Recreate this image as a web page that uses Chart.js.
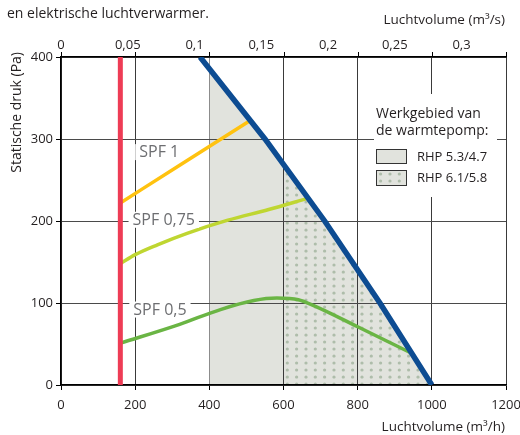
<!DOCTYPE html>
<html><head><meta charset="utf-8">
<script src="https://cdn.jsdelivr.net/npm/chart.js@4.4.1/dist/chart.umd.min.js"></script>
<style>html,body{margin:0;padding:0;background:#fff}#wrap{width:520px;height:435px;position:relative}</style>
</head><body><div id="wrap"><canvas id="c" width="520" height="435"></canvas></div>
<script>
// ---- data (airflow in m3/h, static pressure in Pa) ----
const xTickValues = [0, 200, 400, 600, 800, 1000, 1200];
const yTickValues = [0, 100, 200, 300, 400];
const topTickLabelsM3s = ['0', '0,05', '0,1', '0,15', '0,2', '0,25', '0,3'];

const minFlowX = [160, 160];
const minFlowY = [0, 400];

const maxCurveX = [375, 550, 711, 860, 1000];
const maxCurveY = [400, 300, 200, 100, 0];

const rhp53X = [400, 550, 711, 860, 1000];
const rhp53Y = [386, 300, 200, 100, 0];

const rhp61X = [600, 711, 860, 1000];
const rhp61Y = [268, 200, 100, 0];

const spf1X = [160, 320, 505];
const spf1Y = [222, 268, 321];

const spf075X = [160, 200, 260, 340, 450, 560, 660];
const spf075Y = [148, 159, 171, 185, 201, 214, 227];

const spf05X = [160, 320, 430, 520, 582, 640, 680, 800, 940];
const spf05Y = [51, 74, 92, 103, 106, 104, 97, 71, 40];

const spfNames = ['SPF 1', 'SPF 0,75', 'SPF 0,5'];
const legendNames = ['RHP 5.3/4.7', 'RHP 6.1/5.8'];

// ---- rendering ----
const FONT = '"Open Sans", "Noto Sans", sans-serif';
const TXT = '#231f20';
const pts = (xs, ys) => xs.map((x, i) => ({x, y: ys[i]}));

const cv = document.getElementById('c');
const ctx0 = cv.getContext('2d');
function makeDots() {
  const c = document.createElement('canvas');
  c.width = 28; c.height = 21;
  const g = c.getContext('2d');
  g.fillStyle = '#e1e3dd'; g.fillRect(0, 0, 28, 21);
  g.fillStyle = '#aebdaa';
  for (const xs of [7.3, 16.6, 26]) for (const ys of [6, 13, 20])
    for (const dx of [-28, 0, 28]) for (const dy of [-21, 0, 21]) {
      g.beginPath(); g.arc(xs + dx, ys + dy, 1.6, 0, Math.PI * 2); g.fill();
    }
  return ctx0.createPattern(c, 'repeat');
}
const dots = makeDots();

// label anchors (data units: left x, middle y)
const spfAnchorX = [211, 193, 195];
const spfAnchorY = [284, 201.5, 92];

const overlay = {
  id: 'overlay',
  afterDatasetsDraw(chart) {
    const {ctx, scales: {x, y}} = chart;
    ctx.save();
    ctx.font = '16px ' + FONT;
    ctx.textBaseline = 'middle';
    ctx.textAlign = 'left';
    spfNames.forEach((t, i) => {
      const px = x.getPixelForValue(spfAnchorX[i]);
      const py = y.getPixelForValue(spfAnchorY[i]);
      const w = ctx.measureText(t).width;
      ctx.fillStyle = '#fff';
      ctx.fillRect(px - 4, py - 8, w + 8, 16);
      ctx.fillStyle = '#6d6e71';
      ctx.fillText(t, px, py + 0.5);
    });
    // legend
    ctx.fillStyle = '#fff';
    ctx.fillRect(374, 94, 123, 103);
    ctx.fillStyle = TXT;
    ctx.font = '14px ' + FONT;
    ctx.fillText('Werkgebied van', 376, 114);
    ctx.fillText('de warmtepomp:', 376, 131);
    ctx.lineWidth = 1;
    ctx.strokeStyle = '#333';
    ctx.fillStyle = '#e1e3dd';
    ctx.fillRect(376.5, 149.5, 30, 14); ctx.strokeRect(376.5, 149.5, 30, 14);
    ctx.fillStyle = dots;
    ctx.fillRect(376.5, 170.5, 30, 15); ctx.strokeRect(376.5, 170.5, 30, 15);
    ctx.fillStyle = TXT;
    ctx.font = '13px ' + FONT;
    ctx.fillText(legendNames[0], 417, 157);
    ctx.fillText(legendNames[1], 417, 178);
    ctx.restore();
  },
  afterDraw(chart) {
    const {ctx, chartArea, scales: {x}} = chart;
    ctx.save();
    ctx.strokeStyle = '#000';
    ctx.lineWidth = 1;
    x.ticks.forEach(t => {
      const px = Math.round(x.getPixelForValue(t.value)) + 0.5;
      ctx.beginPath(); ctx.moveTo(px, chartArea.top - 5); ctx.lineTo(px, chartArea.top); ctx.stroke();
    });
    ctx.fillStyle = TXT;
    ctx.textBaseline = 'middle';
    ctx.font = '14px ' + FONT;
    ctx.textAlign = 'left';
    ctx.fillText('en elektrische luchtverwarmer.', 7, 14.5);
    ctx.font = '13.5px ' + FONT;
    ctx.textAlign = 'right';
    ctx.fillText('Luchtvolume (m³/s)', 505, 20.5);
    ctx.fillText('Luchtvolume (m³/h)', 505, 427);
    ctx.font = '14px ' + FONT;
    ctx.translate(17, 52);
    ctx.rotate(-Math.PI / 2);
    ctx.textAlign = 'right';
    ctx.fillText('Statische druk (Pa)', 0, 0);
    ctx.restore();
  }
};

const noPad = s => { s.paddingLeft = 0; s.paddingRight = 0; s.paddingTop = 0; s.paddingBottom = 0; };
const line = (data, color, width, order, extra) => Object.assign({
  data, borderColor: color, borderWidth: width, pointRadius: 0, showLine: true,
  fill: false, order, borderCapStyle: 'butt'
}, extra || {});

new Chart(cv, {
  type: 'scatter',
  data: {
    datasets: [
      line(pts(maxCurveX, maxCurveY), '#0d4c92', 5.5, 0),
      line(pts(minFlowX, minFlowY), '#ee3c55', 5, 1),
      line(pts(spf1X, spf1Y), '#ffc20f', 3.5, 2, {cubicInterpolationMode: 'monotone'}),
      line(pts(spf075X, spf075Y), '#bfd631', 3.5, 3, {cubicInterpolationMode: 'monotone'}),
      line(pts(spf05X, spf05Y), '#6ab544', 3.5, 4, {cubicInterpolationMode: 'monotone'}),
      line(pts(rhp61X, rhp61Y), 'rgba(0,0,0,0)', 0, 10, {fill: 'origin', backgroundColor: dots}),
      line(pts(rhp53X, rhp53Y), 'rgba(0,0,0,0)', 0, 11, {fill: 'origin', backgroundColor: '#e1e3dd'})
    ]
  },
  options: {
    responsive: false,
    animation: false,
    devicePixelRatio: 1,
    layout: {padding: {left: 0, right: 14, top: 0, bottom: 0}},
    plugins: {legend: {display: false}, tooltip: {enabled: false}, filler: {drawTime: 'beforeDraw'}},
    scales: {
      x: {
        type: 'linear', position: 'bottom', min: 0, max: 1200,
        afterBuildTicks: s => { s.ticks = xTickValues.map(v => ({value: v})); },
        ticks: {color: TXT, font: {family: FONT, size: 13}, padding: 7, maxRotation: 0, autoSkip: false,
          callback: v => String(v)},
        grid: {color: c => c.tick && c.tick.value === 400 ? '#8c8c8c' : '#3a3a3a', lineWidth: 1, tickLength: 5, tickColor: '#000'},
        border: {display: true, color: '#000', width: 1.5},
        afterFit: s => { s.height = 50; noPad(s); }
      },
      x2: {
        type: 'linear', position: 'top', min: 0, max: 1200 / 3600,
        afterBuildTicks: s => { s.ticks = topTickLabelsM3s.map((_, i) => ({value: i * 0.05})); },
        ticks: {color: TXT, font: {family: FONT, size: 13}, padding: 4, maxRotation: 0, autoSkip: false,
          callback: (v, i) => topTickLabelsM3s[i]},
        grid: {display: false, drawTicks: false},
        border: {display: true, color: '#000', width: 1.5},
        afterFit: s => { s.height = 57; noPad(s); }
      },
      y: {
        type: 'linear', min: 0, max: 400,
        afterBuildTicks: s => { s.ticks = yTickValues.map(v => ({value: v})); },
        ticks: {color: TXT, font: {family: FONT, size: 13}, padding: 3, callback: v => String(v)},
        grid: {color: '#4a4a4a', lineWidth: 1, tickLength: 5, tickColor: '#000'},
        border: {display: true, color: '#000', width: 1.5},
        afterFit: s => { s.width = 61; noPad(s); }
      }
    }
  },
  plugins: [overlay]
});
</script>
</body></html>
